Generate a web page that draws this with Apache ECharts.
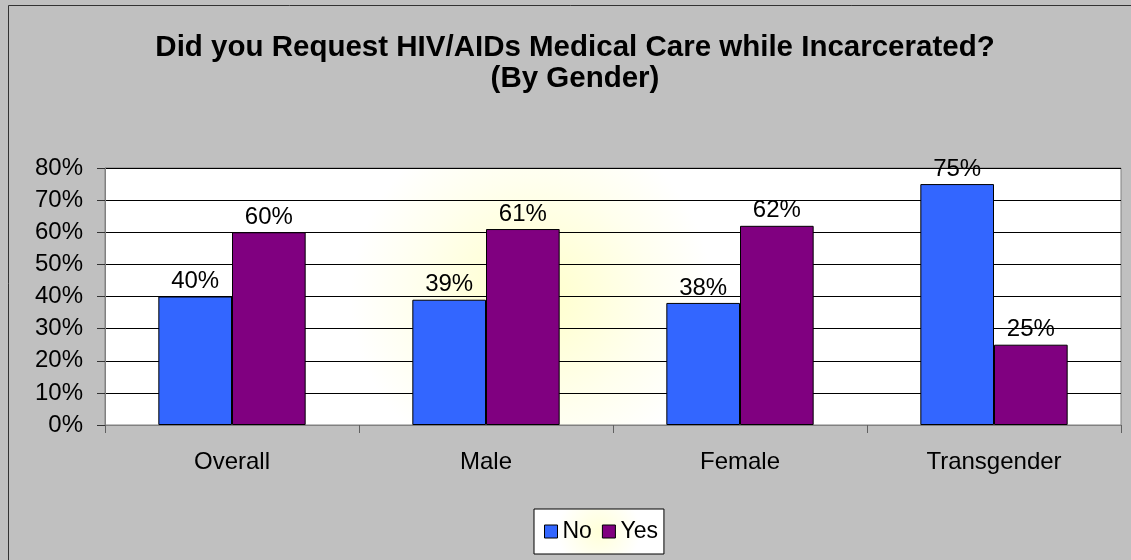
<!DOCTYPE html>
<html><head><meta charset="utf-8">
<script src="https://cdn.jsdelivr.net/npm/echarts@6/dist/echarts.min.js"></script>
<style>html,body{margin:0;padding:0;background:#C0C0C0}#c{width:1131px;height:560px}</style>
</head><body><div id="c"></div>
<script>
const categories = ['Overall', 'Male', 'Female', 'Transgender'];
const noValues = [40, 39, 38, 75];
const yesValues = [60, 61, 62, 25];
const seriesNames = ['No', 'Yes'];
const yTicks = [0, 10, 20, 30, 40, 50, 60, 70, 80];
const titleLines = ['Did you Request HIV/AIDs Medical Care while Incarcerated?', '(By Gender)'];

const font = '"Liberation Sans", Arial, sans-serif';
const chart = echarts.init(document.getElementById('c'), null, {renderer: 'canvas'});
chart.setOption({
  backgroundColor: '#C0C0C0',
  animation: false,
  graphic: [
    {type: 'rect', shape: {x: 8.5, y: 5.5, width: 1140, height: 570}, silent: true,
     style: {fill: 'none', stroke: '#333', lineWidth: 1}, z: -1},
    {type: 'text', x: 575, y: 48, silent: true,
     style: {text: titleLines[0], fill: '#000', font: 'bold 29.5px ' + font, textAlign: 'center', textVerticalAlign: 'middle'}},
    {type: 'text', x: 575, y: 79, silent: true,
     style: {text: titleLines[1], fill: '#000', font: 'bold 29.5px ' + font, textAlign: 'center', textVerticalAlign: 'middle'}}
  ],
  legend: {
    data: seriesNames, top: 509, left: 534,
    itemWidth: 13, itemHeight: 13, itemGap: 10,
    padding: [11, 6, 11, 10],
    backgroundColor: {type: 'radial', x: 0.5, y: 0.5, r: 0.9, colorStops: [{offset: 0, color: '#FFFFD8'}, {offset: 1, color: '#FFFFFF'}]},
    borderColor: '#000', borderWidth: 1, borderRadius: 0,
    icon: 'rect',
    itemStyle: {borderColor: '#000', borderWidth: 1},
    textStyle: {fontFamily: font, fontSize: 23, color: '#000', padding: [0, 0, 0, 0]}
  },
  grid: {
    left: 105, right: 10, top: 168, bottom: 135, show: true,
    borderColor: '#808080', borderWidth: 1,
    backgroundColor: {type: 'radial', x: 0.42, y: 0.5, r: 1.0,
      colorStops: [{offset: 0, color: '#FFFFC8'}, {offset: 0.45, color: '#FFFFEE'}, {offset: 0.7, color: '#FFFFFF'}, {offset: 1, color: '#FFFFFF'}]}
  },
  xAxis: {
    type: 'category', data: categories,
    axisLine: {lineStyle: {color: '#808080', width: 1}},
    axisTick: {show: true, length: 8, lineStyle: {color: '#606060'}},
    axisLabel: {fontFamily: font, fontSize: 24, color: '#000', margin: 25}
  },
  yAxis: {
    type: 'value', min: 0, max: 80, interval: 10,
    axisLine: {show: true, lineStyle: {color: '#808080', width: 1}},
    axisTick: {show: true, length: 8, lineStyle: {color: '#333'}},
    axisLabel: {fontFamily: font, fontSize: 24, color: '#000', margin: 22, formatter: v => v + '%'},
    splitLine: {show: true, lineStyle: {color: '#000', width: 1}}
  },
  series: [
    {name: seriesNames[0], type: 'bar', data: noValues, barGap: '0%', barCategoryGap: '42%',
     itemStyle: {color: '#3366FF', borderColor: '#000', borderWidth: 1},
     label: {show: true, position: 'top', distance: 3, formatter: '{c}%', fontFamily: font, fontSize: 24, color: '#000'}},
    {name: seriesNames[1], type: 'bar', data: yesValues,
     itemStyle: {color: '#800080', borderColor: '#000', borderWidth: 1},
     label: {show: true, position: 'top', distance: 3, formatter: '{c}%', fontFamily: font, fontSize: 24, color: '#000'}}
  ]
});
</script></body></html>
